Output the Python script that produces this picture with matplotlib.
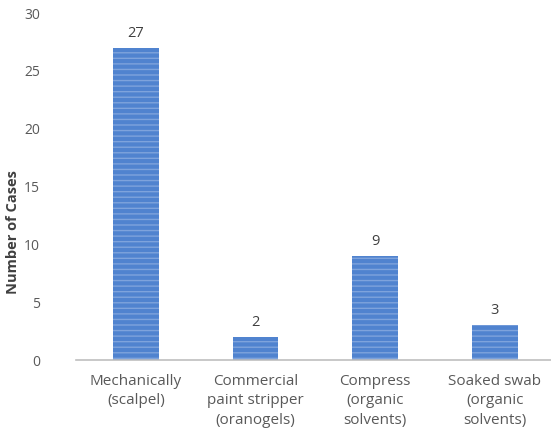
import matplotlib.pyplot as plt
import matplotlib as mpl

methods = ["Mechanically\n(scalpel)", "Commercial\npaint stripper\n(oranogels)",
           "Compress\n(organic\nsolvents)", "Soaked swab\n(organic\nsolvents)"]
cases = [27, 2, 9, 3]

plt.rcParams['font.family'] = ['Open Sans', 'DejaVu Sans']
mpl.rcParams['hatch.color'] = '#7ea3dc'
mpl.rcParams['hatch.linewidth'] = 1.0

fig = plt.figure(figsize=(5.51, 4.36), dpi=100)
ax = fig.add_axes([0.138, 0.174, 0.862, 0.796])

bars = ax.bar(range(len(cases)), cases, width=0.38, color='#5083cf',
              hatch='---', edgecolor='#7ea3dc', linewidth=0)
for b, v in zip(bars, cases):
    ax.text(b.get_x() + b.get_width() / 2, v + 0.6, str(v), ha='center', va='bottom',
            fontsize=10.5, color='#404040')

ax.set_xlim(-0.5, 3.47)
ax.set_ylim(0, 30)
ax.set_yticks(range(0, 31, 5))
ax.set_xticks(range(len(cases)))
ax.set_xticklabels(methods, fontsize=11, color='#595959', linespacing=1.4)
ax.tick_params(axis='y', labelsize=10, labelcolor='#595959', length=0, pad=26)
ax.tick_params(axis='x', length=0, pad=10)
ax.set_ylabel("Number of Cases", fontsize=10.5, color='#404040', fontweight='bold')
ax.yaxis.set_label_coords(-0.118, 0.37)
for s in ['top', 'right', 'left']:
    ax.spines[s].set_visible(False)
ax.spines['bottom'].set_color('#bfbfbf')
ax.spines['bottom'].set_linewidth(1.2)

fig.savefig('out.png', dpi=100)
